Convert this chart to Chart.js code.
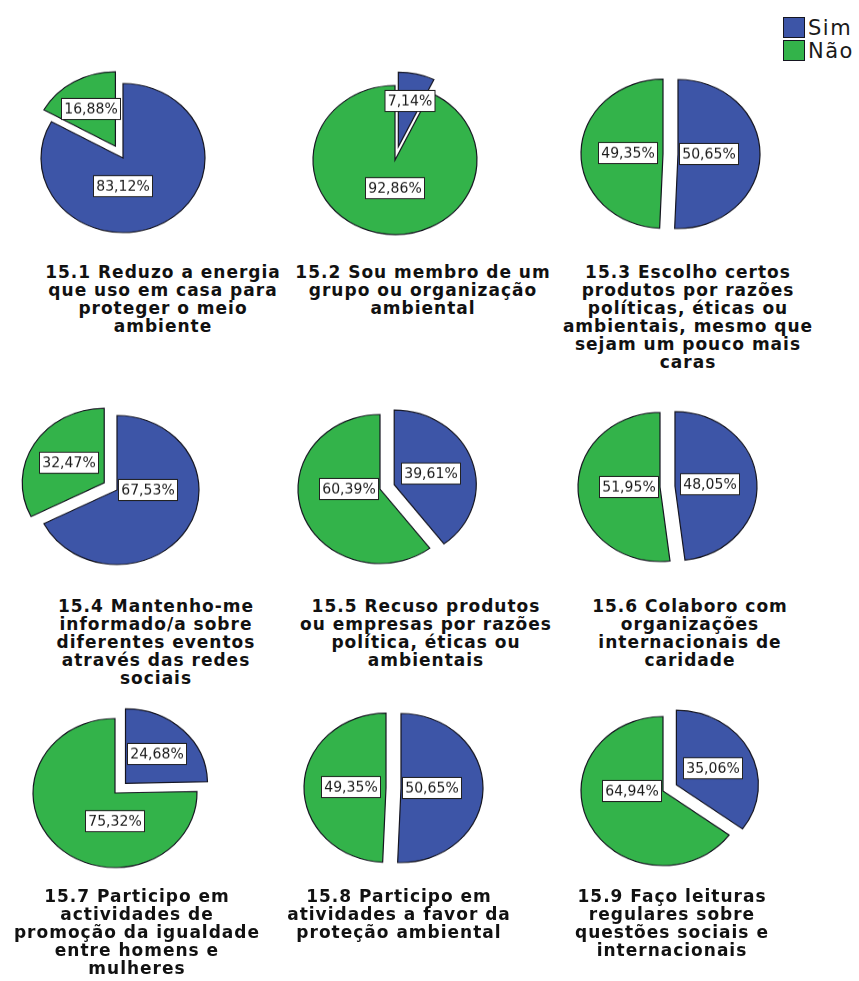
<!DOCTYPE html>
<html>
<head>
<meta charset="utf-8">
<script src="https://cdn.jsdelivr.net/npm/chart.js@4.4.1/dist/chart.umd.min.js"></script>
<style>
html, body { margin: 0; padding: 0; background: #fff; }
#page { position: relative; width: 859px; height: 981px; overflow: hidden; background: #fff; }
.pie { position: absolute; }
.title { position: absolute; width: 320px; text-align: center; font-family: "DejaVu Sans", Verdana, sans-serif; font-weight: bold; font-size: 17px; line-height: 18px; letter-spacing: 1px; color: #111; white-space: nowrap; }
.legend { position: absolute; left: 783px; top: 16px; font-family: "DejaVu Sans", sans-serif; font-size: 21px; letter-spacing: 1.5px; color: #1a1a1a; }
.legend .item { display: flex; align-items: center; height: 23px; }
.legend .sw { width: 22px; height: 21px; border: 1px solid #151520; margin-right: 3px; box-sizing: border-box; }
</style>
</head>
<body>
<div id="page"></div>
<script>
// ---- data ----
const seriesNames = ['Sim', 'Não'];
const simValues = [83.12, 7.14, 50.65, 67.53, 39.61, 48.05, 24.68, 50.65, 35.06];
const naoValues = [16.88, 92.86, 49.35, 32.47, 60.39, 51.95, 75.32, 49.35, 64.94];
const titleLines = [
  ['15.1 Reduzo a energia', 'que uso em casa para', 'proteger o meio', 'ambiente'],
  ['15.2 Sou membro de um', 'grupo ou organização', 'ambiental'],
  ['15.3 Escolho certos', 'produtos por razões', 'políticas, éticas ou', 'ambientais, mesmo que', 'sejam um pouco mais', 'caras'],
  ['15.4 Mantenho-me', 'informado/a sobre', 'diferentes eventos', 'através das redes', 'sociais'],
  ['15.5 Recuso produtos', 'ou empresas por razões', 'política, éticas ou', 'ambientais'],
  ['15.6 Colaboro com', 'organizações', 'internacionais de', 'caridade'],
  ['15.7 Participo em', 'actividades de', 'promoção da igualdade', 'entre homens e', 'mulheres'],
  ['15.8 Participo em', 'atividades a favor da', 'proteção ambiental'],
  ['15.9 Faço leituras', 'regulares sobre', 'questões sociais e', 'internacionais']
];

// ---- layout / style ----
const colors = ['#3d55a7', '#33b34a'];
const borderColor = '#151520';
const pieCenters = [[123,158],[395,160],[678,154],[117,490],[380,489],[660,487],[115,793],[401,788],[663,791]];
const titleCenters = [163, 423, 688, 156, 426, 690, 137, 399, 672];
const titleRowY = [272, 606, 896];
const CANVAS = 220;
const SQUASH = 0.91;
const RADIUS = 82;
const EXPLODE = 15;

const page = document.getElementById('page');

// legend
const leg = document.createElement('div');
leg.className = 'legend';
seriesNames.forEach((n, i) => {
  const it = document.createElement('div');
  it.className = 'item';
  const sw = document.createElement('div');
  sw.className = 'sw';
  sw.style.background = colors[i];
  const tx = document.createElement('span');
  tx.textContent = n;
  it.appendChild(sw); it.appendChild(tx);
  leg.appendChild(it);
});
page.appendChild(leg);

const fmt = v => v.toFixed(2).replace('.', ',') + '%';

function shiftFor(chart, i) {
  const data = chart.data.datasets[0].data;
  const total = data.reduce((a, b) => a + b, 0);
  return data[i] * 2 < total ? EXPLODE : 0;
}

// explode the smaller slice: translate the library's own arc drawing
const explodePlugin = {
  id: 'explode',
  beforeDatasetsDraw(chart) {
    const meta = chart.getDatasetMeta(0);
    meta.data.forEach((arc, i) => {
      arc.$shift = shiftFor(chart, i);
      if (!arc.$wrapped) {
        const orig = arc.draw;
        arc.draw = function (ctx, area) {
          const mid = (this.startAngle + this.endAngle) / 2;
          ctx.save();
          ctx.translate(Math.cos(mid) * this.$shift, Math.sin(mid) * this.$shift);
          orig.call(this, ctx, area);
          ctx.restore();
        };
        arc.$wrapped = true;
      }
    });
  }
};

const labelPlugin = {
  id: 'pctLabels',
  afterDatasetsDraw(chart) {
    const ctx = chart.ctx;
    const meta = chart.getDatasetMeta(0);
    const data = chart.data.datasets[0].data;
    const total = data.reduce((a, b) => a + b, 0);
    meta.data.forEach((arc, i) => {
      const p = arc.getProps(['x', 'y', 'startAngle', 'endAngle', 'outerRadius'], true);
      const frac = data[i] / total;
      const mid = (p.startAngle + p.endAngle) / 2;
      const disp = shiftFor(chart, i);
      let dir, dist;
      if (frac > 0.5) {
        dir = Math.round(mid / (Math.PI / 2)) * (Math.PI / 2);
        dist = 0.38 * p.outerRadius;
      } else {
        dir = mid;
        dist = p.outerRadius * (0.42 + 0.5 * (0.5 - frac));
      }
      const lx = p.x + Math.cos(mid) * disp + Math.cos(dir) * dist;
      const ly = p.y + Math.sin(mid) * disp + Math.sin(dir) * dist;
      const text = fmt(data[i]);
      ctx.save();
      ctx.translate(Math.round(lx), Math.round(ly));
      ctx.scale(1, 1 / SQUASH);
      ctx.font = '14px "DejaVu Sans"';
      const w = Math.round(ctx.measureText(text).width + 6);
      const h = 21;
      ctx.fillStyle = '#ffffff';
      ctx.fillRect(-w / 2, -h / 2, w, h);
      ctx.strokeStyle = '#222';
      ctx.lineWidth = 1;
      ctx.strokeRect(-w / 2, -h / 2, w, h);
      ctx.fillStyle = '#1a1a1a';
      ctx.textAlign = 'center';
      ctx.textBaseline = 'middle';
      ctx.fillText(text, 0, 1);
      ctx.restore();
    });
  }
};

simValues.forEach((sv, k) => {
  const [cx, cy] = pieCenters[k];
  const wrap = document.createElement('div');
  wrap.className = 'pie';
  wrap.style.left = (cx - CANVAS / 2) + 'px';
  wrap.style.top = (cy - CANVAS * SQUASH / 2) + 'px';
  const cv = document.createElement('canvas');
  cv.width = CANVAS; cv.height = CANVAS;
  cv.style.width = CANVAS + 'px';
  cv.style.height = (CANVAS * SQUASH) + 'px';
  wrap.appendChild(cv);
  page.appendChild(wrap);

  new Chart(cv, {
    type: 'pie',
    data: {
      labels: seriesNames,
      datasets: [{
        data: [sv, naoValues[k]],
        backgroundColor: colors,
        borderColor: borderColor,
        borderWidth: 1.2,
        borderJoinStyle: 'miter'
      }]
    },
    options: {
      responsive: false,
      devicePixelRatio: 1,
      animation: false,
      events: [],
      radius: RADIUS,
      layout: { padding: 0 },
      plugins: { legend: { display: false }, tooltip: { enabled: false }, title: { display: false } }
    },
    plugins: [explodePlugin, labelPlugin]
  });

  const t = document.createElement('div');
  t.className = 'title';
  t.style.left = (titleCenters[k] - 160) + 'px';
  t.style.top = (titleRowY[Math.floor(k / 3)] - 9) + 'px';
  titleLines[k].forEach(line => {
    const d = document.createElement('div');
    d.textContent = line;
    t.appendChild(d);
  });
  page.appendChild(t);
});
</script>
</body>
</html>
